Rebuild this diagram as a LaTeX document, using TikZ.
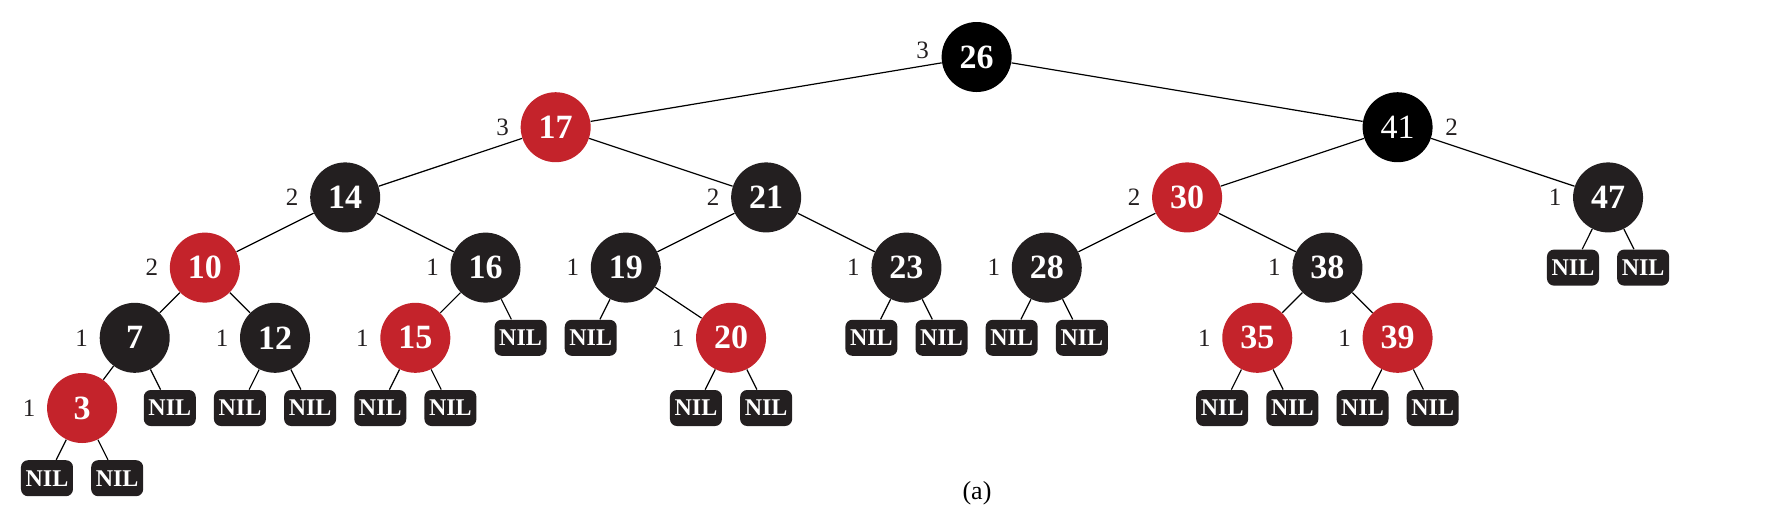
\documentclass[tikz,border=0pt]{standalone}
\usepackage{fontspec}
\setmainfont{Liberation Serif}
\definecolor{rbred}{RGB}{196,35,43}
\definecolor{rbdark}{RGB}{35,31,32}
\tikzset{
  rbnode/.style={circle, minimum size=35pt, inner sep=0pt, text=white,
    font=\fontsize{17}{17}\selectfont\bfseries},
  blk/.style={rbnode, fill=black},
  drk/.style={rbnode, fill=rbdark},
  red/.style={rbnode, fill=rbred},
  nilbox/.style={rectangle, rounded corners=3.5pt, minimum width=26pt, minimum height=18pt,
    inner sep=0pt, fill=rbdark, text=white, font=\fontsize{12}{12}\selectfont\bfseries},
  lbl/.style={inner sep=0pt, text=rbdark, font=\fontsize{12.5}{12.5}\selectfont},
  edge/.style={draw=black, line width=0.6pt}
}
\begin{document}
\begin{tikzpicture}[x=17.54pt, y=-35.1pt]
\useasboundingbox (-1.3398,-0.812) rectangle (49.316,6.652);
% internal nodes
\node[blk] (n26) at (26.5,0) {26};
\node[red] (n17) at (14.5,1) {17};
\node[rbnode, fill=black, font=\fontsize{17}{17}\selectfont] (n41) at (38.5,1) {41};
\node[drk] (n14) at (8.5,2) {14};
\node[drk] (n21) at (20.5,2) {21};
\node[red] (n30) at (32.5,2) {30};
\node[drk] (n47) at (44.5,2) {47};
\node[red] (n10) at (4.5,3) {10};
\node[drk] (n16) at (12.5,3) {16};
\node[drk] (n19) at (16.5,3) {19};
\node[drk] (n23) at (24.5,3) {23};
\node[drk] (n28) at (28.5,3) {28};
\node[drk] (n38) at (36.5,3) {38};
\node[drk] (n7) at (2.5,4) {7};
\node[drk] (n12) at (6.5,4) {12};
\node[red] (n15) at (10.5,4) {15};
\node[red] (n20) at (19.5,4) {20};
\node[red] (n35) at (34.5,4) {35};
\node[red] (n39) at (38.5,4) {39};
\node[red] (n3) at (1,5) {3};
% NIL leaves
\node[nilbox] (a1) at (43.5,3) {NIL};
\node[nilbox] (a2) at (45.5,3) {NIL};
\node[nilbox] (b1) at (13.5,4) {NIL};
\node[nilbox] (b2) at (15.5,4) {NIL};
\node[nilbox] (b3) at (23.5,4) {NIL};
\node[nilbox] (b4) at (25.5,4) {NIL};
\node[nilbox] (b5) at (27.5,4) {NIL};
\node[nilbox] (b6) at (29.5,4) {NIL};
\node[nilbox] (c1) at (3.5,5) {NIL};
\node[nilbox] (c2) at (5.5,5) {NIL};
\node[nilbox] (c3) at (7.5,5) {NIL};
\node[nilbox] (c4) at (9.5,5) {NIL};
\node[nilbox] (c5) at (11.5,5) {NIL};
\node[nilbox] (c6) at (18.5,5) {NIL};
\node[nilbox] (c7) at (20.5,5) {NIL};
\node[nilbox] (c8) at (33.5,5) {NIL};
\node[nilbox] (c9) at (35.5,5) {NIL};
\node[nilbox] (c10) at (37.5,5) {NIL};
\node[nilbox] (c11) at (39.5,5) {NIL};
\node[nilbox] (d1) at (0,6) {NIL};
\node[nilbox] (d2) at (2,6) {NIL};
% edges
\draw[edge] (n26) -- (n17);
\draw[edge] (n26) -- (n41);
\draw[edge] (n17) -- (n14);
\draw[edge] (n17) -- (n21);
\draw[edge] (n41) -- (n30);
\draw[edge] (n41) -- (n47);
\draw[edge] (n14) -- (n10);
\draw[edge] (n14) -- (n16);
\draw[edge] (n21) -- (n19);
\draw[edge] (n21) -- (n23);
\draw[edge] (n30) -- (n28);
\draw[edge] (n30) -- (n38);
\draw[edge] (n47) -- (a1);
\draw[edge] (n47) -- (a2);
\draw[edge] (n10) -- (n7);
\draw[edge] (n10) -- (n12);
\draw[edge] (n16) -- (n15);
\draw[edge] (n16) -- (b1);
\draw[edge] (n19) -- (b2);
\draw[edge] (n19) -- (n20);
\draw[edge] (n23) -- (b3);
\draw[edge] (n23) -- (b4);
\draw[edge] (n28) -- (b5);
\draw[edge] (n28) -- (b6);
\draw[edge] (n38) -- (n35);
\draw[edge] (n38) -- (n39);
\draw[edge] (n7) -- (n3);
\draw[edge] (n7) -- (c1);
\draw[edge] (n12) -- (c2);
\draw[edge] (n12) -- (c3);
\draw[edge] (n15) -- (c4);
\draw[edge] (n15) -- (c5);
\draw[edge] (n20) -- (c6);
\draw[edge] (n20) -- (c7);
\draw[edge] (n35) -- (c8);
\draw[edge] (n35) -- (c9);
\draw[edge] (n39) -- (c10);
\draw[edge] (n39) -- (c11);
\draw[edge] (n3) -- (d1);
\draw[edge] (n3) -- (d2);
% black-height labels
\node[lbl] (l26) at ([xshift=-27pt,yshift=3.5pt]n26.center) {3};
\node[lbl] (l17) at ([xshift=-26.5pt]n17.center) {3};
\node[lbl] (l41) at ([xshift=27pt]n41.center) {2};
\node[lbl] (l14) at ([xshift=-26.5pt]n14.center) {2};
\node[lbl] (l21) at ([xshift=-26.5pt]n21.center) {2};
\node[lbl] (l30) at ([xshift=-26.5pt]n30.center) {2};
\node[lbl] (l47) at ([xshift=-26.5pt]n47.center) {1};
\node[lbl] (l10) at ([xshift=-26.5pt]n10.center) {2};
\node[lbl] (l16) at ([xshift=-26.5pt]n16.center) {1};
\node[lbl] (l19) at ([xshift=-26.5pt]n19.center) {1};
\node[lbl] (l23) at ([xshift=-26.5pt]n23.center) {1};
\node[lbl] (l28) at ([xshift=-26.5pt]n28.center) {1};
\node[lbl] (l38) at ([xshift=-26.5pt]n38.center) {1};
\node[lbl] (l7) at ([xshift=-26.5pt]n7.center) {1};
\node[lbl] (l12) at ([xshift=-26.5pt]n12.center) {1};
\node[lbl] (l15) at ([xshift=-26.5pt]n15.center) {1};
\node[lbl] (l20) at ([xshift=-26.5pt]n20.center) {1};
\node[lbl] (l35) at ([xshift=-26.5pt]n35.center) {1};
\node[lbl] (l39) at ([xshift=-26.5pt]n39.center) {1};
\node[lbl] (l3) at ([xshift=-26.5pt]n3.center) {1};
% caption
\node[lbl, text=black, font=\fontsize{13}{13}\selectfont] (cap) at (26.51,6.21) {(a)};
\end{tikzpicture}
\end{document}
